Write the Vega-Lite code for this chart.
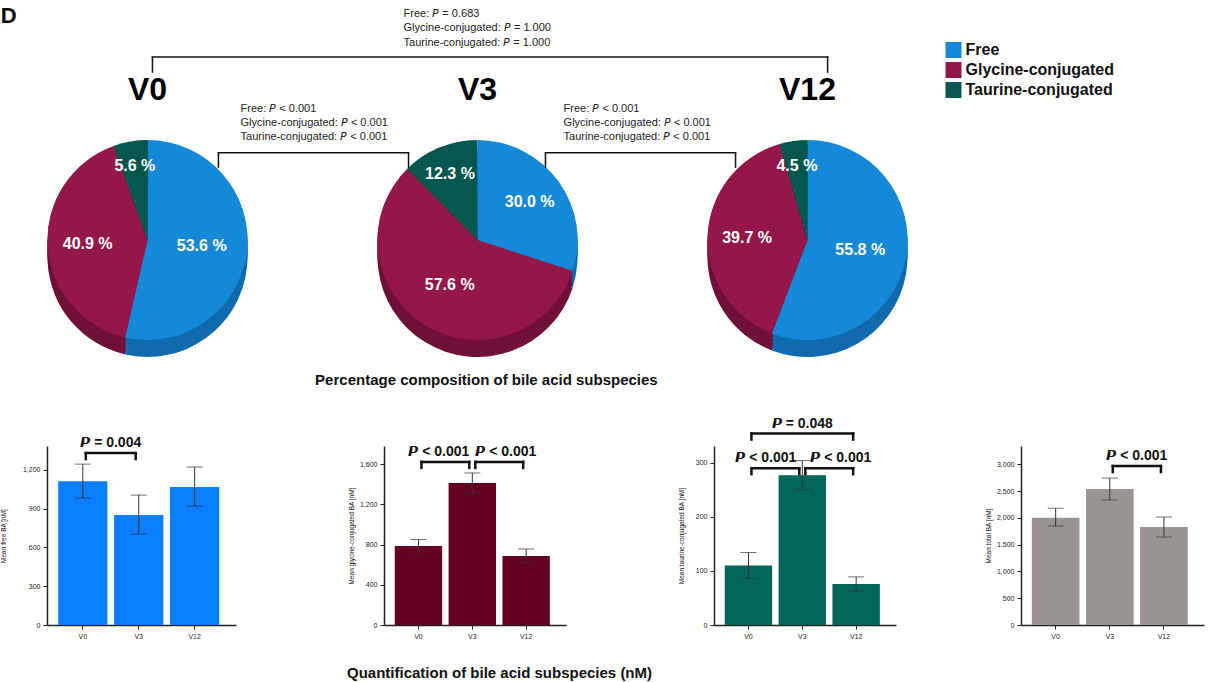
{
  "$schema": "https://vega.github.io/schema/vega-lite/v6.json",
  "padding": 0,
  "autosize": {"type": "pad"},
  "spacing": 20,
  "datasets": {
    "pies": [
      {"visit": "V0", "vi": 0, "sub": "Free", "ord": 1, "pct": 53.6, "lbl": "53.6 %"},
      {"visit": "V0", "vi": 0, "sub": "Glycine-conjugated", "ord": 2, "pct": 40.9, "lbl": "40.9 %"},
      {"visit": "V0", "vi": 0, "sub": "Taurine-conjugated", "ord": 3, "pct": 5.6, "lbl": "5.6 %"},
      {"visit": "V3", "vi": 1, "sub": "Free", "ord": 1, "pct": 30.0, "lbl": "30.0 %"},
      {"visit": "V3", "vi": 1, "sub": "Glycine-conjugated", "ord": 2, "pct": 57.6, "lbl": "57.6 %"},
      {"visit": "V3", "vi": 1, "sub": "Taurine-conjugated", "ord": 3, "pct": 12.3, "lbl": "12.3 %"},
      {"visit": "V12", "vi": 2, "sub": "Free", "ord": 1, "pct": 55.8, "lbl": "55.8 %"},
      {"visit": "V12", "vi": 2, "sub": "Glycine-conjugated", "ord": 2, "pct": 39.7, "lbl": "39.7 %"},
      {"visit": "V12", "vi": 2, "sub": "Taurine-conjugated", "ord": 3, "pct": 4.5, "lbl": "4.5 %"}
    ],
    "bars": [
      {"sp": "free", "visit": "V0", "mean": 1113, "lo": 982, "hi": 1245},
      {"sp": "free", "visit": "V3", "mean": 851, "lo": 704, "hi": 1005},
      {"sp": "free", "visit": "V12", "mean": 1067, "lo": 920, "hi": 1222},
      {"sp": "gly", "visit": "V0", "mean": 786, "lo": 726, "hi": 850},
      {"sp": "gly", "visit": "V3", "mean": 1413, "lo": 1313, "hi": 1512},
      {"sp": "gly", "visit": "V12", "mean": 687, "lo": 617, "hi": 756},
      {"sp": "tau", "visit": "V0", "mean": 110, "lo": 86, "hi": 134},
      {"sp": "tau", "visit": "V3", "mean": 277, "lo": 250, "hi": 304},
      {"sp": "tau", "visit": "V12", "mean": 76, "lo": 63, "hi": 89},
      {"sp": "total", "visit": "V0", "mean": 2000, "lo": 1845, "hi": 2180},
      {"sp": "total", "visit": "V3", "mean": 2537, "lo": 2332, "hi": 2743},
      {"sp": "total", "visit": "V12", "mean": 1828, "lo": 1642, "hi": 2015}
    ],
    "cmp": [
      {"sp": "free", "from": "V0", "to": "V3", "lvl": 1330, "p": "\uD835\uDE4B = 0.004"},
      {"sp": "gly", "from": "V0", "to": "V3", "lvl": 1622, "p": "\uD835\uDE4B < 0.001"},
      {"sp": "gly", "from": "V3", "to": "V12", "lvl": 1622, "p": "\uD835\uDE4B < 0.001"},
      {"sp": "tau", "from": "V0", "to": "V3", "lvl": 290, "p": "\uD835\uDE4B < 0.001"},
      {"sp": "tau", "from": "V3", "to": "V12", "lvl": 290, "p": "\uD835\uDE4B < 0.001"},
      {"sp": "tau", "from": "V0", "to": "V12", "lvl": 354, "p": "\uD835\uDE4B = 0.048"},
      {"sp": "total", "from": "V3", "to": "V12", "lvl": 2966, "p": "\uD835\uDE4B < 0.001"}
    ]
  },
  "vconcat": [
    {
      "width": 1166,
      "height": 396,
      "data": {"values": [{}]},
      "layer": [
        {
          "mark": {"type": "text", "text": "D", "fontSize": 22, "fontWeight": "bold", "align": "left", "baseline": "middle"},
          "encoding": {
            "x": {"datum": -0.445, "type": "quantitative", "scale": {"domain": [-0.3045, 3.2288], "nice": false, "zero": false}, "axis": null},
            "y": {"datum": 96, "type": "quantitative", "scale": {"domain": [0, 100], "nice": false, "zero": false}, "axis": null}
          }
        },
        {
          "data": {"name": "pies"},
          "transform": [
            {"stack": "pct", "groupby": ["visit"], "sort": [{"field": "ord", "order": "ascending"}], "as": ["t0", "t1"]}
          ],
          "encoding": {
            "x": {"field": "vi", "type": "quantitative", "stack": null},
            "y": {"datum": 39.4, "type": "quantitative"},
            "theta": {"field": "t0", "type": "quantitative", "stack": null, "scale": {"domain": [0, 100]}},
            "theta2": {"field": "t1"}
          },
          "layer": [
            {"mark": {"type": "arc", "outerRadius": 100, "yOffset": 17}, "encoding": {"fill": {"field": "ord", "type": "nominal", "scale": {"domain": [1, 2, 3], "range": ["#0F6BAD", "#701038", "#023E39"]}, "legend": null}}},
            {"mark": {"type": "arc", "outerRadius": 100, "yOffset": 13}, "encoding": {"fill": {"field": "ord", "type": "nominal", "legend": null}}},
            {"mark": {"type": "arc", "outerRadius": 100, "yOffset": 9}, "encoding": {"fill": {"field": "ord", "type": "nominal", "legend": null}}},
            {"mark": {"type": "arc", "outerRadius": 100, "yOffset": 5}, "encoding": {"fill": {"field": "ord", "type": "nominal", "legend": null}}},
            {"mark": {"type": "arc", "outerRadius": 100, "yOffset": 1}, "encoding": {"fill": {"field": "ord", "type": "nominal", "legend": null}}},
            {
              "mark": {"type": "arc", "outerRadius": 100},
              "encoding": {
                "color": {
                  "field": "sub", "type": "nominal",
                  "scale": {"domain": ["Free", "Glycine-conjugated", "Taurine-conjugated"], "range": ["#1688D8", "#931748", "#03574F"]},
                  "legend": {"orient": "none", "legendX": 898.5, "legendY": 42, "title": null, "symbolType": "square", "symbolSize": 256, "symbolStrokeWidth": 0, "labelFontSize": 16, "labelFontWeight": "bold", "labelColor": "#111", "rowPadding": 4, "labelOffset": 4}
                }
              }
            }
          ]
        },
        {
          "data": {"name": "pies"},
          "transform": [{"filter": "datum.visit === 'V0'"}],
          "mark": {"type": "text", "fontSize": 16, "fontWeight": "bold", "color": "white"},
          "encoding": {
            "x": {"datum": 0, "type": "quantitative"},
            "y": {"datum": 39.4, "type": "quantitative"},
            "theta": {"field": "pct", "type": "quantitative", "stack": true},
            "order": {"field": "ord"},
            "detail": {"field": "sub"},
            "radius": {"field": "pct", "type": "quantitative", "scale": {"type": "linear", "domain": [5, 55], "range": [75, 54], "zero": false}},
            "text": {"field": "lbl"}
          }
        },
        {
          "data": {"name": "pies"},
          "transform": [{"filter": "datum.visit === 'V3'"}],
          "mark": {"type": "text", "fontSize": 16, "fontWeight": "bold", "color": "white"},
          "encoding": {
            "x": {"datum": 1, "type": "quantitative"},
            "y": {"datum": 39.4, "type": "quantitative"},
            "theta": {"field": "pct", "type": "quantitative", "stack": true},
            "order": {"field": "ord"},
            "detail": {"field": "sub"},
            "radius": {"field": "pct", "type": "quantitative"},
            "text": {"field": "lbl"}
          }
        },
        {
          "data": {"name": "pies"},
          "transform": [{"filter": "datum.visit === 'V12'"}],
          "mark": {"type": "text", "fontSize": 16, "fontWeight": "bold", "color": "white"},
          "encoding": {
            "x": {"datum": 2, "type": "quantitative"},
            "y": {"datum": 39.4, "type": "quantitative"},
            "theta": {"field": "pct", "type": "quantitative", "stack": true},
            "order": {"field": "ord"},
            "detail": {"field": "sub"},
            "radius": {"field": "pct", "type": "quantitative"},
            "text": {"field": "lbl"}
          }
        },
        {
          "data": {"name": "pies"},
          "transform": [{"filter": "datum.ord === 1"}],
          "mark": {"type": "text", "fontSize": 32, "fontWeight": "bold", "baseline": "middle"},
          "encoding": {
            "x": {"field": "vi", "type": "quantitative"},
            "y": {"datum": 77.3, "type": "quantitative"},
            "text": {"field": "visit"}
          }
        },
        {
          "mark": {"type": "text", "align": "left", "baseline": "top", "fontSize": 11, "lineHeight": 14.5, "color": "#222",
            "text": ["Free: \uD835\uDE17 = 0.683", "Glycine-conjugated: \uD835\uDE17 = 1.000", "Taurine-conjugated: \uD835\uDE17 = 1.000"]},
          "encoding": {"x": {"datum": 0.776, "type": "quantitative"}, "y": {"datum": 98.0, "type": "quantitative"}}
        },
        {
          "mark": {"type": "text", "align": "left", "baseline": "top", "fontSize": 11, "lineHeight": 14, "color": "#222",
            "text": ["Free: \uD835\uDE17 < 0.001", "Glycine-conjugated: \uD835\uDE17 < 0.001", "Taurine-conjugated: \uD835\uDE17 < 0.001"]},
          "encoding": {"x": {"datum": 0.282, "type": "quantitative"}, "y": {"datum": 74.1, "type": "quantitative"}}
        },
        {
          "mark": {"type": "text", "align": "left", "baseline": "top", "fontSize": 11, "lineHeight": 14, "color": "#222",
            "text": ["Free: \uD835\uDE17 < 0.001", "Glycine-conjugated: \uD835\uDE17 < 0.001", "Taurine-conjugated: \uD835\uDE17 < 0.001"]},
          "encoding": {"x": {"datum": 1.261, "type": "quantitative"}, "y": {"datum": 74.1, "type": "quantitative"}}
        },
        {"mark": {"type": "rule", "color": "#111", "strokeWidth": 1.5, "strokeCap": "square"}, "encoding": {"x": {"datum": 0.015, "type": "quantitative"}, "x2": {"datum": 2.061}, "y": {"datum": 85.6, "type": "quantitative"}}},
        {"mark": {"type": "rule", "color": "#111", "strokeWidth": 1.5, "strokeCap": "square"}, "encoding": {"x": {"datum": 0.015, "type": "quantitative"}, "y": {"datum": 85.6, "type": "quantitative"}, "y2": {"datum": 81.8}}},
        {"mark": {"type": "rule", "color": "#111", "strokeWidth": 1.5, "strokeCap": "square"}, "encoding": {"x": {"datum": 2.061, "type": "quantitative"}, "y": {"datum": 85.6, "type": "quantitative"}, "y2": {"datum": 81.8}}},
        {"mark": {"type": "rule", "color": "#111", "strokeWidth": 1.5, "strokeCap": "square"}, "encoding": {"x": {"datum": 0.215, "type": "quantitative"}, "x2": {"datum": 0.791}, "y": {"datum": 61.4, "type": "quantitative"}}},
        {"mark": {"type": "rule", "color": "#111", "strokeWidth": 1.5, "strokeCap": "square"}, "encoding": {"x": {"datum": 0.215, "type": "quantitative"}, "y": {"datum": 61.4, "type": "quantitative"}, "y2": {"datum": 57.8}}},
        {"mark": {"type": "rule", "color": "#111", "strokeWidth": 1.5, "strokeCap": "square"}, "encoding": {"x": {"datum": 0.791, "type": "quantitative"}, "y": {"datum": 61.4, "type": "quantitative"}, "y2": {"datum": 57.8}}},
        {"mark": {"type": "rule", "color": "#111", "strokeWidth": 1.5, "strokeCap": "square"}, "encoding": {"x": {"datum": 1.206, "type": "quantitative"}, "x2": {"datum": 1.782}, "y": {"datum": 61.4, "type": "quantitative"}}},
        {"mark": {"type": "rule", "color": "#111", "strokeWidth": 1.5, "strokeCap": "square"}, "encoding": {"x": {"datum": 1.206, "type": "quantitative"}, "y": {"datum": 61.4, "type": "quantitative"}, "y2": {"datum": 57.8}}},
        {"mark": {"type": "rule", "color": "#111", "strokeWidth": 1.5, "strokeCap": "square"}, "encoding": {"x": {"datum": 1.782, "type": "quantitative"}, "y": {"datum": 61.4, "type": "quantitative"}, "y2": {"datum": 57.8}}},
        {
          "mark": {"type": "text", "text": "Percentage composition of bile acid subspecies", "fontSize": 15, "fontWeight": "bold", "baseline": "middle", "color": "#111"},
          "encoding": {"x": {"datum": 1.027, "type": "quantitative"}, "y": {"datum": 4.0, "type": "quantitative"}}
        }
      ]
    },
    {
      "hconcat": [
        {
          "width": 189,
          "height": 179,
          "layer": [
            {
              "data": {"name": "bars"},
              "transform": [{"filter": "datum.sp === 'free'"}],
              "layer": [
                {
                  "mark": {"type": "bar", "color": "#0A7FFF"},
                  "encoding": {
                    "x": {"field": "visit", "type": "nominal", "scale": {"domain": ["V0", "V3", "V12"], "paddingInner": 0.12, "paddingOuter": 0.25, "align": 0.4}, "axis": {"title": null, "labelAngle": 0}},
                    "y": {"field": "mean", "type": "quantitative", "scale": {"domain": [0, 1385], "nice": false}, "axis": {"title": "Mean free BA [nM]", "values": [0, 300, 600, 900, 1200], "tickCount": 10, "format": ",.0f", "labelOverlap": false, "titlePadding": 16}}
                  }
                },
                {"mark": {"type": "rule", "color": "#333", "strokeWidth": 1}, "encoding": {"x": {"field": "visit", "type": "nominal"}, "y": {"field": "lo", "type": "quantitative"}, "y2": {"field": "hi"}}},
                {"mark": {"type": "tick", "color": "#333", "size": 16, "thickness": 1}, "encoding": {"x": {"field": "visit", "type": "nominal"}, "y": {"field": "lo", "type": "quantitative"}}},
                {"mark": {"type": "tick", "color": "#333", "size": 16, "thickness": 1}, "encoding": {"x": {"field": "visit", "type": "nominal"}, "y": {"field": "hi", "type": "quantitative"}}}
              ]
            },
            {
              "data": {"name": "cmp"},
              "transform": [{"filter": "datum.sp === 'free'"}],
              "layer": [
                {"mark": {"type": "rule", "color": "#111", "strokeWidth": 2.5, "strokeCap": "square", "xOffset": 3, "x2Offset": -3}, "encoding": {"x": {"field": "from", "type": "nominal"}, "x2": {"field": "to"}, "y": {"field": "lvl", "type": "quantitative"}}},
                {"mark": {"type": "rule", "color": "#111", "strokeWidth": 2.5, "strokeCap": "square", "xOffset": 3, "y2Offset": 6}, "encoding": {"x": {"field": "from", "type": "nominal"}, "y": {"field": "lvl", "type": "quantitative"}, "y2": {"field": "lvl"}}},
                {"mark": {"type": "rule", "color": "#111", "strokeWidth": 2.5, "strokeCap": "square", "xOffset": -3, "y2Offset": 6}, "encoding": {"x": {"field": "to", "type": "nominal"}, "y": {"field": "lvl", "type": "quantitative"}, "y2": {"field": "lvl"}}},
                {"mark": {"type": "text", "fontSize": 14, "fontWeight": "bold", "baseline": "middle", "dy": -10, "color": "#111"}, "encoding": {"x": {"field": "from", "type": "nominal", "bandPosition": 1.068}, "y": {"field": "lvl", "type": "quantitative"}, "text": {"field": "p"}}}
              ]
            }
          ]
        },
        {
          "width": 182,
          "height": 179,
          "layer": [
            {
              "data": {"name": "bars"},
              "transform": [{"filter": "datum.sp === 'gly'"}],
              "layer": [
                {
                  "mark": {"type": "bar", "color": "#640022"},
                  "encoding": {
                    "x": {"field": "visit", "type": "nominal", "scale": {"domain": ["V0", "V3", "V12"], "paddingInner": 0.12, "paddingOuter": 0.25, "align": 0.4}, "axis": {"title": null, "labelAngle": 0}},
                    "y": {"field": "mean", "type": "quantitative", "scale": {"domain": [0, 1780], "nice": false}, "axis": {"title": "Mean glycine-conjugated BA [nM]", "values": [0, 400, 800, 1200, 1600], "tickCount": 10, "format": ",.0f", "labelOverlap": false, "titlePadding": 5}}
                  }
                },
                {"mark": {"type": "rule", "color": "#333", "strokeWidth": 1}, "encoding": {"x": {"field": "visit", "type": "nominal"}, "y": {"field": "lo", "type": "quantitative"}, "y2": {"field": "hi"}}},
                {"mark": {"type": "tick", "color": "#333", "size": 16, "thickness": 1}, "encoding": {"x": {"field": "visit", "type": "nominal"}, "y": {"field": "lo", "type": "quantitative"}}},
                {"mark": {"type": "tick", "color": "#333", "size": 16, "thickness": 1}, "encoding": {"x": {"field": "visit", "type": "nominal"}, "y": {"field": "hi", "type": "quantitative"}}}
              ]
            },
            {
              "data": {"name": "cmp"},
              "transform": [{"filter": "datum.sp === 'gly'"}],
              "layer": [
                {"mark": {"type": "rule", "color": "#111", "strokeWidth": 2.5, "strokeCap": "square", "xOffset": 3, "x2Offset": -3}, "encoding": {"x": {"field": "from", "type": "nominal"}, "x2": {"field": "to"}, "y": {"field": "lvl", "type": "quantitative"}}},
                {"mark": {"type": "rule", "color": "#111", "strokeWidth": 2.5, "strokeCap": "square", "xOffset": 3, "y2Offset": 6}, "encoding": {"x": {"field": "from", "type": "nominal"}, "y": {"field": "lvl", "type": "quantitative"}, "y2": {"field": "lvl"}}},
                {"mark": {"type": "rule", "color": "#111", "strokeWidth": 2.5, "strokeCap": "square", "xOffset": -3, "y2Offset": 6}, "encoding": {"x": {"field": "to", "type": "nominal"}, "y": {"field": "lvl", "type": "quantitative"}, "y2": {"field": "lvl"}}},
                {"transform": [{"filter": "datum.to === 'V3'"}], "mark": {"type": "text", "fontSize": 14, "fontWeight": "bold", "baseline": "middle", "align": "right", "dx": -3, "dy": -10, "color": "#111"}, "encoding": {"x": {"field": "to", "type": "nominal"}, "y": {"field": "lvl", "type": "quantitative"}, "text": {"field": "p"}}},
                {"transform": [{"filter": "datum.from === 'V3'"}], "mark": {"type": "text", "fontSize": 14, "fontWeight": "bold", "baseline": "middle", "align": "left", "dx": 3, "dy": -10, "color": "#111"}, "encoding": {"x": {"field": "from", "type": "nominal"}, "y": {"field": "lvl", "type": "quantitative"}, "text": {"field": "p"}}}
              ]
            }
          ]
        },
        {
          "width": 159,
          "height": 179,
          "layer": [
            {
              "data": {"name": "bars"},
              "transform": [{"filter": "datum.sp === 'tau'"}],
              "layer": [
                {
                  "mark": {"type": "bar", "color": "#00665A"},
                  "encoding": {
                    "x": {"field": "visit", "type": "nominal", "scale": {"domain": ["V0", "V3", "V12"], "range": [0, 182], "paddingInner": 0.12, "paddingOuter": 0.25, "align": 0.4}, "axis": {"title": null, "labelAngle": 0}},
                    "y": {"field": "mean", "type": "quantitative", "scale": {"domain": [0, 331], "nice": false}, "axis": {"title": "Mean taurine-conjugated BA [nM]", "values": [0, 100, 200, 300], "tickCount": 10, "format": ",.0f", "labelOverlap": false, "titlePadding": 5}}
                  }
                },
                {"mark": {"type": "rule", "color": "#333", "strokeWidth": 1}, "encoding": {"x": {"field": "visit", "type": "nominal"}, "y": {"field": "lo", "type": "quantitative"}, "y2": {"field": "hi"}}},
                {"mark": {"type": "tick", "color": "#333", "size": 16, "thickness": 1}, "encoding": {"x": {"field": "visit", "type": "nominal"}, "y": {"field": "lo", "type": "quantitative"}}},
                {"mark": {"type": "tick", "color": "#333", "size": 16, "thickness": 1}, "encoding": {"x": {"field": "visit", "type": "nominal"}, "y": {"field": "hi", "type": "quantitative"}}}
              ]
            },
            {
              "data": {"name": "cmp"},
              "transform": [{"filter": "datum.sp === 'tau'"}],
              "layer": [
                {"mark": {"type": "rule", "color": "#111", "strokeWidth": 2.5, "strokeCap": "square", "xOffset": 3, "x2Offset": -3}, "encoding": {"x": {"field": "from", "type": "nominal"}, "x2": {"field": "to"}, "y": {"field": "lvl", "type": "quantitative"}}},
                {"mark": {"type": "rule", "color": "#111", "strokeWidth": 2.5, "strokeCap": "square", "xOffset": 3, "y2Offset": 6}, "encoding": {"x": {"field": "from", "type": "nominal"}, "y": {"field": "lvl", "type": "quantitative"}, "y2": {"field": "lvl"}}},
                {"mark": {"type": "rule", "color": "#111", "strokeWidth": 2.5, "strokeCap": "square", "xOffset": -3, "y2Offset": 6}, "encoding": {"x": {"field": "to", "type": "nominal"}, "y": {"field": "lvl", "type": "quantitative"}, "y2": {"field": "lvl"}}},
                {"transform": [{"filter": "datum.to === 'V3'"}], "mark": {"type": "text", "fontSize": 14, "fontWeight": "bold", "baseline": "middle", "align": "right", "dx": -6, "dy": -10, "color": "#111"}, "encoding": {"x": {"field": "to", "type": "nominal"}, "y": {"field": "lvl", "type": "quantitative"}, "text": {"field": "p"}}},
                {"transform": [{"filter": "datum.from === 'V3'"}], "mark": {"type": "text", "fontSize": 14, "fontWeight": "bold", "baseline": "middle", "align": "left", "dx": 8, "dy": -10, "color": "#111"}, "encoding": {"x": {"field": "from", "type": "nominal"}, "y": {"field": "lvl", "type": "quantitative"}, "text": {"field": "p"}}},
                {"transform": [{"filter": "datum.from === 'V0' && datum.to === 'V12'"}], "mark": {"type": "text", "fontSize": 14, "fontWeight": "bold", "baseline": "middle", "dy": -10, "color": "#111"}, "encoding": {"x": {"field": "from", "type": "nominal", "bandPosition": 1.636}, "y": {"field": "lvl", "type": "quantitative"}, "text": {"field": "p"}}}
              ]
            }
          ]
        },
        {
          "width": 183,
          "height": 179,
          "layer": [
            {
              "data": {"name": "bars"},
              "transform": [{"filter": "datum.sp === 'total'"}],
              "layer": [
                {
                  "mark": {"type": "bar", "color": "#9A9492"},
                  "encoding": {
                    "x": {"field": "visit", "type": "nominal", "scale": {"domain": ["V0", "V3", "V12"], "paddingInner": 0.12, "paddingOuter": 0.25, "align": 0.4}, "axis": {"title": null, "labelAngle": 0}},
                    "y": {"field": "mean", "type": "quantitative", "scale": {"domain": [0, 3340], "nice": false}, "axis": {"title": "Mean total BA [nM]", "values": [0, 500, 1000, 1500, 2000, 2500, 3000], "tickCount": 10, "format": ",.0f", "labelOverlap": false, "titlePadding": 5}}
                  }
                },
                {"mark": {"type": "rule", "color": "#333", "strokeWidth": 1}, "encoding": {"x": {"field": "visit", "type": "nominal"}, "y": {"field": "lo", "type": "quantitative"}, "y2": {"field": "hi"}}},
                {"mark": {"type": "tick", "color": "#333", "size": 16, "thickness": 1}, "encoding": {"x": {"field": "visit", "type": "nominal"}, "y": {"field": "lo", "type": "quantitative"}}},
                {"mark": {"type": "tick", "color": "#333", "size": 16, "thickness": 1}, "encoding": {"x": {"field": "visit", "type": "nominal"}, "y": {"field": "hi", "type": "quantitative"}}}
              ]
            },
            {
              "data": {"name": "cmp"},
              "transform": [{"filter": "datum.sp === 'total'"}],
              "layer": [
                {"mark": {"type": "rule", "color": "#111", "strokeWidth": 2.5, "strokeCap": "square", "xOffset": 3, "x2Offset": -3}, "encoding": {"x": {"field": "from", "type": "nominal"}, "x2": {"field": "to"}, "y": {"field": "lvl", "type": "quantitative"}}},
                {"mark": {"type": "rule", "color": "#111", "strokeWidth": 2.5, "strokeCap": "square", "xOffset": 3, "y2Offset": 6}, "encoding": {"x": {"field": "from", "type": "nominal"}, "y": {"field": "lvl", "type": "quantitative"}, "y2": {"field": "lvl"}}},
                {"mark": {"type": "rule", "color": "#111", "strokeWidth": 2.5, "strokeCap": "square", "xOffset": -3, "y2Offset": 6}, "encoding": {"x": {"field": "to", "type": "nominal"}, "y": {"field": "lvl", "type": "quantitative"}, "y2": {"field": "lvl"}}},
                {"mark": {"type": "text", "fontSize": 14, "fontWeight": "bold", "baseline": "middle", "dy": -10, "color": "#111"}, "encoding": {"x": {"field": "from", "type": "nominal", "bandPosition": 1.068}, "y": {"field": "lvl", "type": "quantitative"}, "text": {"field": "p"}}}
              ]
            }
          ]
        }
      ],
      "spacing": 148,
      "bounds": "flush"
    },
    {
      "width": 905,
      "height": 28,
      "data": {"values": [{"t": "Quantification of bile acid subspecies (nM)"}]},
      "mark": {"type": "text", "fontSize": 15, "fontWeight": "bold", "color": "#111"},
      "encoding": {"text": {"field": "t"}}
    }
  ],
  "config": {
    "font": "Liberation Sans",
    "view": {"stroke": null},
    "axis": {
      "grid": false,
      "domainColor": "#222",
      "domainWidth": 1.5,
      "tickColor": "#222",
      "tickSize": 4,
      "labelFontSize": 7,
      "labelColor": "#222",
      "labelPadding": 3,
      "labelOverlap": false,
      "titleFontSize": 6.5,
      "titleFontWeight": "normal",
      "titleColor": "#111"
    },
    "axisY": {"minExtent": 25, "maxExtent": 25}
  }
}
